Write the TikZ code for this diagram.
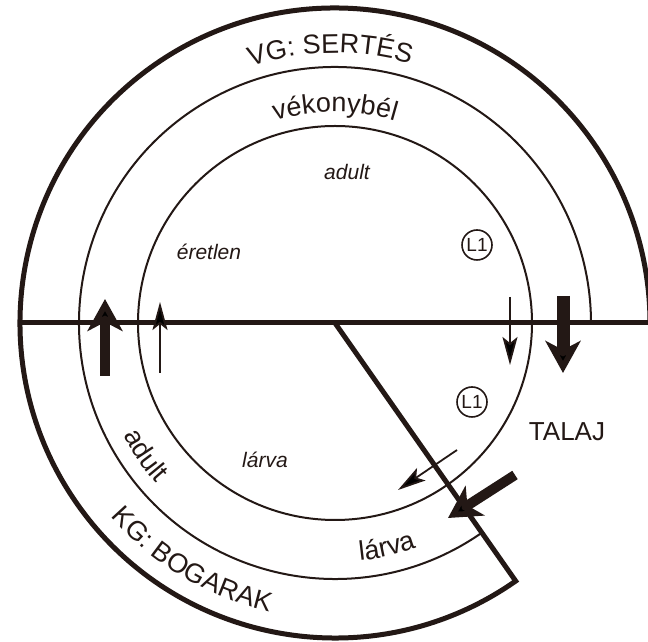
\documentclass[tikz,border=0pt]{standalone}
\usepackage{fontspec}
\setmainfont{Liberation Sans}
\usetikzlibrary{arrows.meta,decorations.text,calc}
\definecolor{ink}{RGB}{35,24,21}
\newcommand{\bigf}{\fontsize{27pt}{29pt}\selectfont}
\begin{document}
\begin{tikzpicture}[x=1pt,y=1pt,
  thickline/.style={draw=ink, line width=5pt, line join=miter},
  thinline/.style={draw=ink, line width=2pt},
  lbl/.style={text=ink, font=\bigf, inner sep=0pt},
  ital/.style={text=ink, font=\itshape\fontsize{21pt}{23pt}\selectfont, inner sep=0pt},
  stage/.style={circle, draw=ink, line width=1.6pt, text=ink, font=\fontsize{19pt}{20pt}\selectfont, minimum size=30pt, inner sep=0pt},
  curved/.style={decorate, decoration={text along path, text align=center, text color=ink, text={#1}}},
  bigarrow/.style={draw=ink, line width=#1, -{Stealth[length=32pt, width=35pt, inset=9pt]}},
  smallarrow/.style={draw=ink, line width=1.8pt, -{Stealth[length=28pt, width=15pt, inset=6pt]}}
]
\useasboundingbox (0,0) rectangle (648,642);
\fill[white] (0,0) rectangle (648,642);
\coordinate (C) at (335,319);
\coordinate (corner) at ($(C)+(-55:315)$);
% circles
\draw[thinline] (C) circle[radius=197];
\draw[thinline] (C) ++(-55:256) arc[start angle=-55, end angle=-360, radius=256];
\draw[thickline] (C) -- (corner) arc[start angle=-55, end angle=-360, radius=315];
% horizontal line
\coordinate (hl) at (20,319);
\coordinate (hr) at (650,319);
\draw[thickline] (hl) -- (hr);
% curved labels
\path[curved={|\bigf|VG: SERTÉS}] (C) ++(111:270) arc[start angle=111, end angle=71, radius=270];
\path[curved={|\bigf|vékonybél}] (C) ++(117:211) arc[start angle=117, end angle=63, radius=211];
\path[curved={|\bigf|KG: BOGARAK}] (C) ++(200:296) arc[start angle=200, end angle=278, radius=296];
\path[curved={|\bigf|adult}] (C) ++(195:240) arc[start angle=195, end angle=235, radius=240];
\path[curved={|\bigf|lárva}] (C) ++(263:239) arc[start angle=263, end angle=303, radius=239];
% inner labels
\node[ital] (adultin) at (347,470) {adult};
\node[ital] (eretlen) at (209,390) {éretlen};
\node[ital] (larvain) at (265,182) {lárva};
\node[stage] (L1a) at (477,397) {L1};
\node[stage] (L1b) at (472,240) {L1};
\node[lbl, font=\fontsize{26pt}{28pt}\selectfont] (talaj) at (567,210) {TALAJ};
% arrows
\coordinate (a1s) at (105,266); \coordinate (a1e) at (105,343);
\coordinate (a2s) at (160,269); \coordinate (a2e) at (160,340);
\coordinate (a3s) at (510,345); \coordinate (a3e) at (510,277);
\coordinate (a4s) at (563,346); \coordinate (a4e) at (563,269);
\coordinate (a5s) at (457,192); \coordinate (a5e) at (398,152);
\coordinate (a6s) at (515,167); \coordinate (a6e) at (448,124);
\draw[bigarrow=10pt] (a1s) -- (a1e);
\draw[smallarrow] (a2s) -- (a2e);
\draw[smallarrow] (a3s) -- (a3e);
\draw[bigarrow=13pt] (a4s) -- (a4e);
\draw[smallarrow] (a5s) -- (a5e);
\draw[bigarrow=10pt] (a6s) -- (a6e);
\end{tikzpicture}
\end{document}
